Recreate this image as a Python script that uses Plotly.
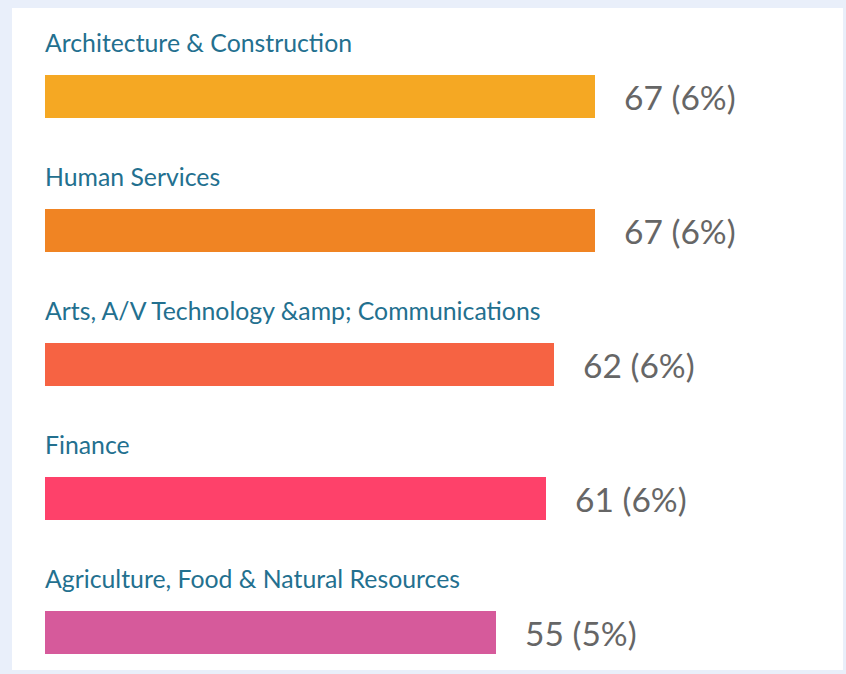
import plotly.graph_objects as go

categories = [
    "Architecture & Construction",
    "Human Services",
    "Arts, A/V Technology &amp; Communications",
    "Finance",
    "Agriculture, Food & Natural Resources",
]
counts = [67, 67, 62, 61, 55]
percents = [6, 6, 6, 6, 5]
colors = ["#F5A823", "#F08423", "#F66343", "#FE416A", "#D65A9B"]

W, H = 846, 674
L, R, T, B = 12, 3, 8, 4
plot_w = W - L - R
px_per_unit = 550 / 67
x0 = -33 / px_per_unit
x1 = x0 + plot_w / px_per_unit

ypos = list(range(len(categories)))

fig = go.Figure()
fig.add_trace(go.Bar(
    x=counts, y=ypos, orientation="h",
    marker=dict(color=colors, line=dict(width=0)),
    width=0.32, hoverinfo="skip",
))


def esc(s):
    return s.replace("&", "&amp;")


annotations = []
for i, (c, n, p) in enumerate(zip(categories, counts, percents)):
    annotations.append(dict(
        x=0, y=i, xref="x", yref="y", text=esc(c), showarrow=False,
        xanchor="left", yanchor="middle", xshift=-2, yshift=54,
        font=dict(family="Lato", size=24.8, color="#23708F"),
    ))
    annotations.append(dict(
        x=n, y=i, xref="x", yref="y", text=f"{n} ({p}%)", showarrow=False,
        xanchor="left", yanchor="middle", xshift=27, yshift=0,
        font=dict(family="Lato", size=33.5, color="#666666"),
    ))

fig.update_layout(
    width=W, height=H,
    margin=dict(l=L, r=R, t=T, b=B),
    paper_bgcolor="#E9EFFA", plot_bgcolor="#FFFFFF",
    showlegend=False,
    xaxis=dict(range=[x0, x1], visible=False, fixedrange=True),
    yaxis=dict(range=[4 + 37.5 / 134, -88.5 / 134], visible=False, fixedrange=True),
    annotations=annotations,
    bargap=0,
)

fig.write_html(
    "out.html",
    config={"displayModeBar": False},
    post_script="document.body.style.margin='0';document.body.style.background='#E9EFFA';",
)
